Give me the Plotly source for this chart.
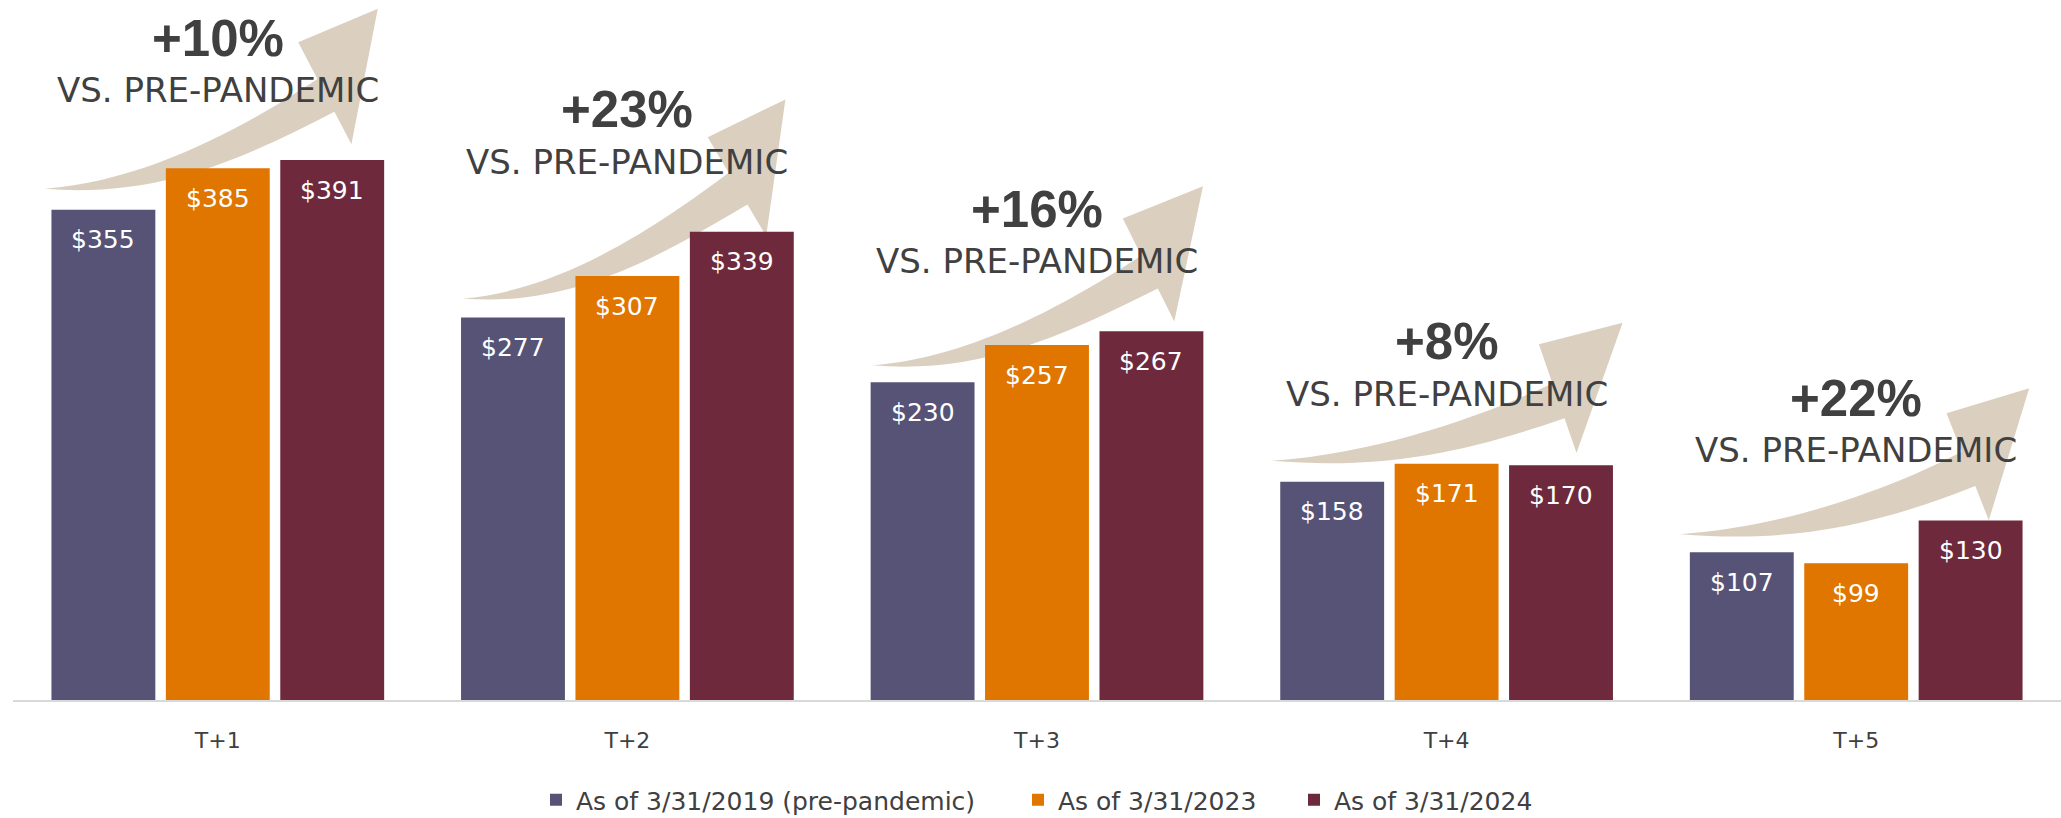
import math
import plotly.graph_objects as go

# ---------------- data ----------------
categories = ["T+1", "T+2", "T+3", "T+4", "T+5"]
series_names = ["As of 3/31/2019 (pre-pandemic)", "As of 3/31/2023", "As of 3/31/2024"]
values_2019 = [355, 277, 230, 158, 107]
values_2023 = [385, 307, 257, 171, 99]
values_2024 = [391, 339, 267, 170, 130]
pct_labels = ["+10%", "+23%", "+16%", "+8%", "+22%"]
sub_label = "VS. PRE-PANDEMIC"

# ---------------- style ----------------
W, H = 2061, 818
M_L, M_R, M_T, M_B = 13, 0, 0, 118
PX_PER_UNIT = 1.381
Y_MAX = (H - M_T - M_B) / PX_PER_UNIT
BARGAP = 0.162
BARGROUPGAP = 0.092
COLORS = ["#565377", "#E07500", "#6E2A3C"]
ARROW_COLOR = "#DBD0C0"
TEXT_DARK = "#404040"
FONT = "DejaVu Sans"
FONT_BOLD = "Liberation Sans"

# arrow geometry (pixels, relative to category centre / pre-pandemic bar top; up positive)
ARROW_TAIL = [(-173, 21), (-165, 19), (-165, 17), (-175, 21), (-176, 18)]
ARROW_TIP = [(160, 201), (158, 218), (166, 196), (176, 159), (173, 164)]
ARROW_ROT = [1, -2, 2, 9.5, 7]  # degrees (screen coords)

series = [values_2019, values_2023, values_2024]

fig = go.Figure()
for k, (name, vals) in enumerate(zip(series_names, series)):
    fig.add_trace(go.Bar(
        x=categories, y=vals, name=name,
        marker=dict(color=COLORS[k], line=dict(width=0)),
        legend=["legend", "legend2", "legend3"][k],
        hoverinfo="skip",
    ))


def rot(p, deg):
    t = math.radians(deg)
    return (p[0] * math.cos(t) - p[1] * math.sin(t), p[0] * math.sin(t) + p[1] * math.cos(t))


def arrow_path(tail_up, tip_up, deg):
    # screen coords (y down), relative to anchor
    T = (tail_up[0], -tail_up[1])
    P = (tip_up[0], -tip_up[1])
    bl = rot((-79.0, 35.0), deg)
    br = rot((-24.0, 136.0), deg)
    left = (P[0] + bl[0], P[1] + bl[1])
    right = (P[0] + br[0], P[1] + br[1])
    tu, tl = 0.36, 0.68
    U = (left[0] + tu * (right[0] - left[0]), left[1] + tu * (right[1] - left[1]))
    L = (left[0] + tl * (right[0] - left[0]), left[1] + tl * (right[1] - left[1]))
    d = rot((0.878, -0.478), deg)
    du = rot(d, -6)
    distL = math.hypot(L[0] - T[0], L[1] - T[1])
    distU = math.hypot(U[0] - T[0], U[1] - T[1])
    l1 = (T[0] + 0.38 * (L[0] - T[0]), T[1] + 9)
    l2 = (L[0] - 0.36 * distL * d[0], L[1] - 0.36 * distL * d[1])
    u1 = (U[0] - 0.24 * distU * du[0], U[1] - 0.24 * distU * du[1])
    u2 = (T[0] + 0.40 * (U[0] - T[0]), T[1] - 8)

    def f(p):
        return f"{p[0]:.1f},{-p[1]:.1f}"
    return (f"M {f(T)} C {f(l1)} {f(l2)} {f(L)} L {f(right)} L {f(P)} L {f(left)} "
            f"L {f(U)} C {f(u1)} {f(u2)} {f(T)} Z")


shapes = []
for i, cat in enumerate(categories):
    shapes.append(dict(
        type="path", xref="x", yref="y", xsizemode="pixel", ysizemode="pixel",
        xanchor=cat, yanchor=values_2019[i],
        path=arrow_path(ARROW_TAIL[i], ARROW_TIP[i], ARROW_ROT[i]),
        fillcolor=ARROW_COLOR, line=dict(width=0), layer="below",
    ))

annotations = []
slot = (1 - BARGAP) / 3
for k, vals in enumerate(series):
    for i, v in enumerate(vals):
        annotations.append(dict(
            x=i + (k - 1) * slot, y=v, xref="x", yref="y", text=f"${v}",
            showarrow=False, yanchor="middle", xanchor="center", yshift=-30,
            font=dict(family=FONT, size=25, color="#FFFFFF"),
        ))

for i, cat in enumerate(categories):
    top = max(values_2019[i], values_2023[i], values_2024[i])
    annotations.append(dict(
        x=cat, y=top, xref="x", yref="y", text=f"<b>{pct_labels[i]}</b>",
        showarrow=False, yanchor="middle", xanchor="center", yshift=122,
        font=dict(family=FONT_BOLD, size=51, color=TEXT_DARK),
    ))
    annotations.append(dict(
        x=cat, y=top, xref="x", yref="y", text=sub_label,
        showarrow=False, yanchor="middle", xanchor="center", yshift=70,
        font=dict(family=FONT, size=34, color=TEXT_DARK),
    ))

plot_w = W - M_L - M_R
plot_h = H - M_T - M_B
legend_px = [536, 1018, 1294]
legend_common = dict(
    orientation="h", yanchor="middle", xanchor="left", y=(plot_h - (800 - M_T)) / plot_h,
    font=dict(family=FONT, size=25, color=TEXT_DARK), bgcolor="rgba(0,0,0,0)",
    borderwidth=0, itemclick=False, itemdoubleclick=False,
)
legends = {}
for j, key in enumerate(["legend", "legend2", "legend3"]):
    d = dict(legend_common)
    d["x"] = (legend_px[j] - M_L) / plot_w
    legends[key] = d

fig.update_layout(
    width=W, height=H,
    margin=dict(l=M_L, r=M_R, t=M_T, b=M_B, pad=0, autoexpand=False),
    barmode="group", bargap=BARGAP, bargroupgap=BARGROUPGAP,
    plot_bgcolor="#FFFFFF", paper_bgcolor="#FFFFFF",
    showlegend=True,
    shapes=shapes, annotations=annotations,
    xaxis=dict(
        type="category", showgrid=False, zeroline=False,
        showline=True, linecolor="#D9D9D9", linewidth=2,
        ticks="", ticklabelstandoff=20,
        tickfont=dict(family=FONT, size=22, color=TEXT_DARK),
    ),
    yaxis=dict(range=[0, Y_MAX], visible=False, showgrid=False, zeroline=False),
    **legends,
)

fig.write_html(
    "out.html",
    config={"displayModeBar": False},
    post_script="document.body.style.margin='0';document.body.style.overflow='hidden';",
)
